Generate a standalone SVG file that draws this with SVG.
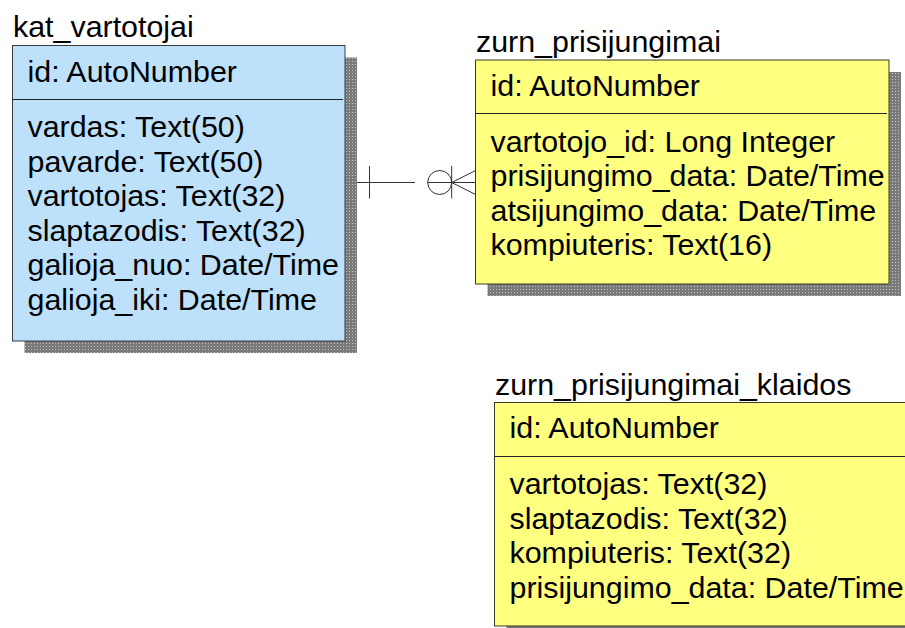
<svg xmlns="http://www.w3.org/2000/svg" width="905" height="628" viewBox="0 0 905 628">
  <defs>
    <!-- stippled drop shadow -->
    <pattern id="stipple" width="3" height="3" patternUnits="userSpaceOnUse">
      <rect width="3" height="3" fill="#7a7a7a"/>
      <rect x="1" y="1" width="1" height="1" fill="#c4c4c4"/>
    </pattern>
  </defs>
  <style>
    text { font-family: "Liberation Sans", Arial, sans-serif; font-size: 30.4px; fill: #000; }
    .shadow { fill: url(#stipple); }
    .blue { fill: #bde0fb; stroke: #3a3a3a; stroke-width: 1; }
    .yellow { fill: #ffff80; stroke: #3a3a20; stroke-width: 1; }
    .div { stroke: #222; stroke-width: 1; }
    .conn { stroke: #333; stroke-width: 1; fill: none; }
  </style>
  <rect width="905" height="628" fill="#fff"/>

  <g id="kat_vartotojai">
    <text x="13" y="36.5">kat_vartotojai</text>
    <rect class="shadow" x="24.5" y="57.5" width="332.5" height="295.5"/>
    <rect class="blue" x="12.5" y="45.5" width="332.5" height="295.5"/>
    <text x="27.5" y="81.5">id: AutoNumber</text>
    <line class="div" x1="12.5" y1="99.5" x2="343" y2="99.5"/>
    <text x="27.5" y="137">vardas: Text(50)</text>
    <text x="27.5" y="171.5">pavarde: Text(50)</text>
    <text x="27.5" y="206">vartotojas: Text(32)</text>
    <text x="27.5" y="240.5">slaptazodis: Text(32)</text>
    <text x="27.5" y="275">galioja_nuo: Date/Time</text>
    <text x="27.5" y="309.5">galioja_iki: Date/Time</text>
  </g>

  <g id="zurn_prisijungimai">
    <text x="476" y="51.5">zurn_prisijungimai</text>
    <rect class="shadow" x="487.5" y="72" width="413.5" height="224"/>
    <rect class="yellow" x="475.5" y="60" width="413.5" height="224"/>
    <text x="490.5" y="95.5">id: AutoNumber</text>
    <line class="div" x1="475.5" y1="113.5" x2="887" y2="113.5"/>
    <text x="490.5" y="151.5">vartotojo_id: Long Integer</text>
    <text x="490.5" y="186">prisijungimo_data: Date/Time</text>
    <text x="490.5" y="220.5">atsijungimo_data: Date/Time</text>
    <text x="490.5" y="255">kompiuteris: Text(16)</text>
  </g>

  <g id="zurn_prisijungimai_klaidos">
    <text x="495" y="394.5">zurn_prisijungimai_klaidos</text>
    <rect class="shadow" x="506.5" y="414.5" width="430" height="223.5"/>
    <rect class="yellow" x="494.5" y="402.5" width="430" height="223.5"/>
    <text x="509.5" y="438">id: AutoNumber</text>
    <line class="div" x1="494.5" y1="456.5" x2="924" y2="456.5"/>
    <text x="509.5" y="494">vartotojas: Text(32)</text>
    <text x="509.5" y="528.5">slaptazodis: Text(32)</text>
    <text x="509.5" y="563">kompiuteris: Text(32)</text>
    <text x="509.5" y="597.5">prisijungimo_data: Date/Time</text>
  </g>

  <g id="connectors">
    <!-- one side: single bar -->
    <line class="conn" x1="357" y1="182.5" x2="415" y2="182.5"/>
    <line class="conn" x1="369.5" y1="166" x2="369.5" y2="198.5"/>
    <!-- many side: circle, bar, crow's foot -->
    <circle class="conn" cx="439.7" cy="182.5" r="12"/>
    <line class="conn" x1="427.7" y1="182.5" x2="475.5" y2="182.5"/>
    <line class="conn" x1="451.7" y1="166" x2="451.7" y2="198.5"/>
    <line class="conn" x1="451.7" y1="182.5" x2="475.5" y2="170.5"/>
    <line class="conn" x1="451.7" y1="182.5" x2="475.5" y2="194.5"/>
  </g>
</svg>
